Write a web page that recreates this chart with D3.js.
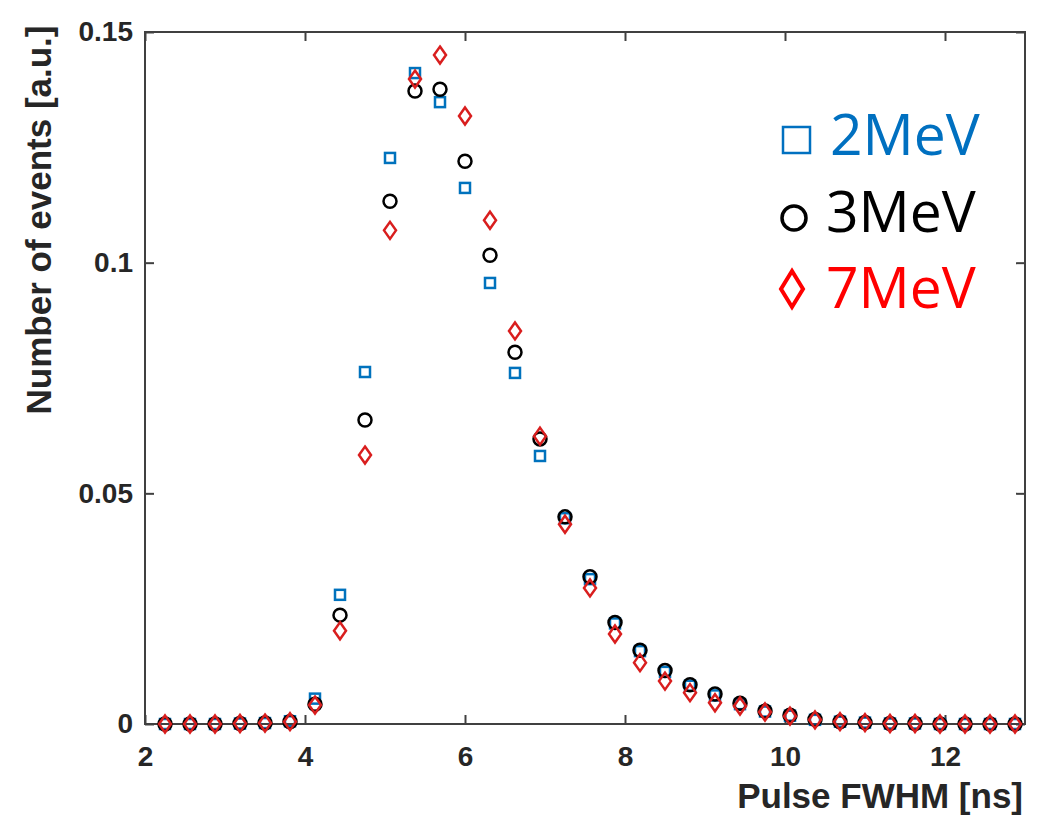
<!DOCTYPE html>
<html>
<head>
<meta charset="utf-8">
<script src="https://cdn.jsdelivr.net/npm/d3@7"></script>
<style>
  body { margin: 0; background: #fff; }
  svg { display: block; }
  .tick text { font-family: "Liberation Sans", Arial, sans-serif; font-weight: bold; font-size: 28px; fill: #262626; }
  .title { font-family: "Liberation Sans", Arial, sans-serif; font-weight: bold; font-size: 35px; fill: #262626; }
  .legend text { font-family: "Open Sans", "Noto Sans", sans-serif; font-size: 57px; }
</style>
</head>
<body>
<svg id="chart" width="1050" height="819"></svg>
<script>
// pulse width bins (ns)
const fwhm = [2.25, 2.5625, 2.875, 3.1875, 3.5, 3.8125, 4.125, 4.4375, 4.75, 5.0625,
  5.375, 5.6875, 6.0, 6.3125, 6.625, 6.9375, 7.25, 7.5625, 7.875, 8.1875,
  8.5, 8.8125, 9.125, 9.4375, 9.75, 10.0625, 10.375, 10.6875, 11.0, 11.3125,
  11.625, 11.9375, 12.25, 12.5625, 12.875];

const mev2 = [0, 0, 0, 0.0001, 0.0002, 0.0006, 0.0055, 0.028, 0.0763, 0.1227,
  0.1411, 0.1348, 0.1162, 0.0956, 0.0761, 0.0581, 0.0446, 0.0314, 0.0218, 0.0158,
  0.0113, 0.0083, 0.0062, 0.0043, 0.0027, 0.0018, 0.0009, 0.0005, 0.0003, 0.0001,
  0.0001, 0, 0, 0, 0];
const mev3 = [0, 0, 0, 0.0001, 0.0002, 0.0005, 0.0043, 0.0236, 0.0659, 0.1133,
  0.1372, 0.1376, 0.122, 0.1016, 0.0806, 0.0618, 0.0449, 0.0319, 0.022, 0.016,
  0.0116, 0.0085, 0.0065, 0.0045, 0.0028, 0.0019, 0.001, 0.0005, 0.0003, 0.0001,
  0.0001, 0, 0, 0, 0];
const mev7 = [0, 0, 0, 0.0001, 0.0002, 0.0005, 0.0041, 0.0202, 0.0583, 0.107,
  0.1398, 0.145, 0.1318, 0.1092, 0.0852, 0.0624, 0.0433, 0.0295, 0.0195, 0.0133,
  0.0093, 0.0068, 0.0046, 0.0039, 0.0026, 0.0017, 0.0009, 0.0005, 0.0003, 0.0001,
  0.0001, 0, 0, 0, 0];

const xTicks = [2, 4, 6, 8, 10, 12];
const yTicks = [0, 0.05, 0.1, 0.15];
const yTickLabels = ["0", "0.05", "0.1", "0.15"];
const legendLabels = ["2MeV", "3MeV", "7MeV"];

const svg = d3.select("#chart");
const m = { l: 145, r: 1025, t: 32, b: 724 };

const x = d3.scaleLinear().domain([2, 13]).range([m.l, m.r]);
const y = d3.scaleLinear().domain([0, 0.15]).range([m.b, m.t]);

const axisColor = "#404040";

// box
svg.append("rect")
  .attr("x", m.l).attr("y", m.t)
  .attr("width", m.r - m.l).attr("height", m.b - m.t)
  .attr("fill", "none").attr("stroke", axisColor).attr("stroke-width", 2);

// axes, ticks pointing inward
const gx = svg.append("g").attr("transform", `translate(0,${m.b})`)
  .call(d3.axisBottom(x).tickValues(xTicks).tickSizeInner(-9).tickSizeOuter(0).tickPadding(22)
    .tickFormat(d3.format("d")));
const gy = svg.append("g").attr("transform", `translate(${m.l},0)`)
  .call(d3.axisLeft(y).tickValues(yTicks).tickSizeInner(-9).tickSizeOuter(0).tickPadding(12)
    .tickFormat((d, i) => yTickLabels[i]));
const gxt = svg.append("g").attr("transform", `translate(0,${m.t})`)
  .call(d3.axisTop(x).tickValues(xTicks).tickSizeInner(-9).tickSizeOuter(0).tickFormat(""));
const gyr = svg.append("g").attr("transform", `translate(${m.r},0)`)
  .call(d3.axisRight(y).tickValues(yTicks).tickSizeInner(-9).tickSizeOuter(0).tickFormat(""));

[gx, gy, gxt, gyr].forEach(g => {
  g.select(".domain").remove();
  g.selectAll(".tick line").attr("stroke", axisColor).attr("stroke-width", 2);
});
gx.selectAll(".tick text").attr("dy", "0.71em");

// axis titles
svg.append("text").attr("class", "title")
  .attr("x", 1023).attr("y", 808).attr("text-anchor", "end")
  .text("Pulse FWHM [ns]");
svg.append("text").attr("class", "title")
  .attr("transform", "translate(51,220) rotate(-90)")
  .attr("text-anchor", "middle")
  .text("Number of events [a.u.]");

// markers
const plot = svg.append("g");
const pts = vals => fwhm.map((f, i) => [f, vals[i]]);

plot.append("g").selectAll("rect").data(pts(mev2)).join("rect")
  .attr("x", d => x(d[0]) - 5).attr("y", d => y(d[1]) - 5)
  .attr("width", 10).attr("height", 10)
  .attr("fill", "none").attr("stroke", "#0072BD").attr("stroke-width", 2.5);

plot.append("g").selectAll("circle").data(pts(mev3)).join("circle")
  .attr("cx", d => x(d[0])).attr("cy", d => y(d[1])).attr("r", 6.5)
  .attr("fill", "none").attr("stroke", "#000").attr("stroke-width", 2.5);

const diamond = (w, h) => `M0,${-h}L${w},0L0,${h}L${-w},0Z`;
plot.append("g").selectAll("path").data(pts(mev7)).join("path")
  .attr("transform", d => `translate(${x(d[0])},${y(d[1])})`)
  .attr("d", diamond(6, 8.5))
  .attr("fill", "none").attr("stroke", "#D91E1E").attr("stroke-width", 2.5);

// legend
const legend = svg.append("g").attr("class", "legend");
legend.append("rect").attr("x", 783).attr("y", 127).attr("width", 27).attr("height", 26)
  .attr("fill", "none").attr("stroke", "#0070C0").attr("stroke-width", 2.5);
legend.append("circle").attr("cx", 794).attr("cy", 218).attr("r", 12)
  .attr("fill", "none").attr("stroke", "#000").attr("stroke-width", 3.5);
legend.append("path").attr("transform", "translate(792,289)").attr("d", diamond(11, 18))
  .attr("fill", "none").attr("stroke", "#FF0000").attr("stroke-width", 4);

const legendColors = ["#0070C0", "#000000", "#FF0000"];
const legendX = [830, 826, 826];
const legendY = [155, 232, 308];
legendLabels.forEach((t, i) => {
  legend.append("text").attr("x", legendX[i]).attr("y", legendY[i])
    .attr("fill", legendColors[i]).text(t);
});
</script>
</body>
</html>
